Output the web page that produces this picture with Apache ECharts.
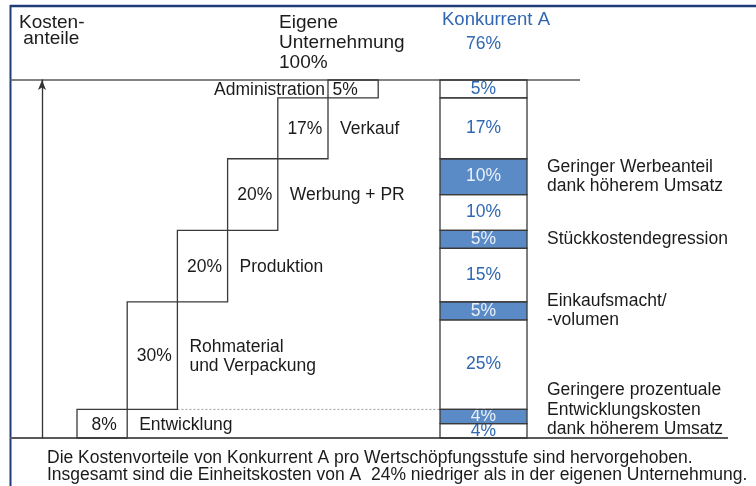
<!DOCTYPE html>
<html>
<head>
<meta charset="utf-8">
<script src="https://cdn.jsdelivr.net/npm/echarts@6/dist/echarts.min.js"></script>
<style>
  html, body { margin: 0; padding: 0; background: #ffffff; }
  #chart { width: 756px; height: 486px; }
</style>
</head>
<body>
<div id="chart"></div>
<script>
// Value-chain stages, listed from the bottom of the staircase upwards
const stages = ['Entwicklung', 'Rohmaterial\nund Verpackung', 'Produktion', 'Werbung + PR', 'Verkauf', 'Administration'];
// Cost share of each stage in the own company (percent of unit cost)
const ownShare = [8, 30, 20, 20, 17, 5];
// Cost share of each stage at competitor A (same base: own unit cost = 100)
const rivalShare = [4, 25, 15, 10, 17, 5];
// Explanation of competitor A's advantage per stage
const advantageNotes = [
  'Geringere prozentuale\nEntwicklungskosten\ndank höherem Umsatz',
  'Einkaufsmacht/\n-volumen',
  'Stückkostendegression',
  'Geringer Werbeanteil\ndank höherem Umsatz',
  '',
  ''
];

const FONT = '"Liberation Sans", Arial, sans-serif';
const INK = '#1b1b1b';
const BOX = '#3a3a3a';
const BLUE_TEXT = '#2f67b1';
const HILITE = '#5b8bc6';
const FRAME = '#1d3c78';

// running bottoms of the staircase
const ownBase = [];
let acc = 0;
ownShare.forEach(v => { ownBase.push(acc); acc += v; });
const ownTotal = acc;
const rivalTotal = rivalShare.reduce((a, b) => a + b, 0);

// [category, from, to, share]
const stepData = ownShare.map((v, i) => [i, ownBase[i], ownBase[i] + v, v]);

// competitor column: [0, from, to, share, highlighted, stage]
const rivalSegs = [];
ownShare.forEach((v, i) => {
  const lo = ownBase[i];
  const mid = lo + rivalShare[i];
  const hi = lo + v;
  rivalSegs.push([0, lo, mid, rivalShare[i], 0, i]);
  if (hi > mid) rivalSegs.push([0, mid, hi, hi - mid, 1, i]);
});

const chart = echarts.init(document.getElementById('chart'), null, { renderer: 'canvas' });

function drawStep(params, api) {
  const i = api.value(0);
  const bottom = api.coord([i, api.value(1)]);
  const top = api.coord([i, api.value(2)]);
  const w = api.size([1, 0])[0];
  const x = bottom[0] - w / 2;
  const y = top[1];
  const h = bottom[1] - top[1];
  const cy = y + h / 2;
  const last = i === stages.length - 1;
  return {
    type: 'group',
    children: [
      {
        type: 'rect',
        shape: { x: x, y: y, width: w, height: h },
        style: { fill: null, stroke: BOX, lineWidth: 1.3 }
      },
      {
        type: 'text',
        x: bottom[0] + (last ? -8 : 2), y: cy + 1,
        style: {
          text: api.value(3) + '%', fill: INK, font: '17.5px ' + FONT,
          align: 'center', verticalAlign: 'middle'
        }
      },
      {
        type: 'text',
        x: last ? x - 3 : x + w + 12, y: cy + 1,
        style: {
          text: stages[i], fill: INK, font: '17.5px ' + FONT, lineHeight: 19,
          align: last ? 'right' : 'left', verticalAlign: 'middle'
        }
      }
    ]
  };
}

function drawSegment(params, api) {
  const lo = api.value(1), hi = api.value(2);
  const hl = api.value(4) === 1;
  const stage = api.value(5);
  const a = api.coord([0, lo]);
  const b = api.coord([0, hi]);
  const axisBottom = api.coord([0, 0])[1];
  const w = api.size([1, 0])[0];
  const x = a[0] - w / 2;
  const cy = (a[1] + b[1]) / 2;
  const children = [
    {
      type: 'rect',
      shape: { x: x, y: b[1], width: w, height: a[1] - b[1] },
      style: { fill: hl ? HILITE : null, stroke: BOX, lineWidth: 1.3 }
    },
    {
      type: 'text',
      x: a[0], y: cy,
      style: {
        text: api.value(3) + '%', fill: hl ? '#e9f0f9' : BLUE_TEXT,
        font: '17.5px ' + FONT, align: 'center', verticalAlign: 'middle'
      }
    }
  ];
  if (hl && advantageNotes[stage]) {
    const lines = advantageNotes[stage].split('\n').length;
    const ny = Math.min(cy, axisBottom - lines * 19.5 / 2 + 1);
    children.push({
      type: 'text',
      x: x + w + 20, y: ny,
      style: {
        text: advantageNotes[stage], fill: INK, font: '17.5px ' + FONT,
        lineHeight: 19.5, align: 'left', verticalAlign: 'middle'
      }
    });
  }
  return { type: 'group', children: children };
}

const option = {
  animation: false,
  backgroundColor: '#ffffff',
  grid: [
    { left: 77, top: 80, width: 301.2, height: 358 },
    { left: 440, top: 80, width: 87, height: 358 }
  ],
  xAxis: [
    { type: 'category', gridIndex: 0, data: stages, show: false },
    { type: 'category', gridIndex: 1, data: ['Konkurrent A'], show: false }
  ],
  yAxis: [
    {
      type: 'value', gridIndex: 0, min: 0, max: 100, offset: 35,
      axisLine: {
        show: true, symbol: ['none', 'arrow'], symbolSize: [6, 10],
        lineStyle: { color: '#333333', width: 1.3 }
      },
      axisTick: { show: false }, axisLabel: { show: false }, splitLine: { show: false }
    },
    {
      type: 'value', gridIndex: 1, min: 0, max: 100, show: false, splitLine: { show: false }
    }
  ],
  series: [
    {
      type: 'custom', name: 'Eigene Unternehmung', xAxisIndex: 0, yAxisIndex: 0,
      renderItem: drawStep, data: stepData, clip: false,
      encode: { x: 0, y: [1, 2] }
    },
    {
      type: 'custom', name: 'Konkurrent A', xAxisIndex: 1, yAxisIndex: 1,
      renderItem: drawSegment, data: rivalSegs, clip: false,
      encode: { x: 0, y: [1, 2] }
    }
  ]
};
chart.setOption(option);

// Frame, rules and captions positioned from the axes
const yTop = chart.convertToPixel({ yAxisIndex: 0 }, 100);
const yZero = chart.convertToPixel({ yAxisIndex: 0 }, 0);
const yDev = chart.convertToPixel({ yAxisIndex: 0 }, ownShare[0]);
const band = 301.2 / stages.length;
const rowStart = chart.convertToPixel({ xAxisIndex: 0 }, stages[1]) + band / 2;
const colLeft = chart.convertToPixel({ xAxisIndex: 1 }, 'Konkurrent A') - 87 / 2;

function txt(t, x, y, size, color, align) {
  return {
    type: 'text', x: x, y: y, silent: true,
    style: { text: t, fill: color || INK, font: size + 'px ' + FONT, align: align || 'left', verticalAlign: 'middle' }
  };
}

chart.setOption({
  graphic: [
    { type: 'line', shape: { x1: 10, y1: 6, x2: 756, y2: 6 }, style: { stroke: FRAME, lineWidth: 2.5 } },
    { type: 'line', shape: { x1: 10.5, y1: 5, x2: 10.5, y2: 486 }, style: { stroke: FRAME, lineWidth: 2 } },
    { type: 'line', shape: { x1: 10, y1: yTop, x2: 580, y2: yTop }, style: { stroke: '#5a5a5a', lineWidth: 1.6 } },
    { type: 'line', shape: { x1: 10, y1: yZero, x2: 728, y2: yZero }, style: { stroke: '#5a5a5a', lineWidth: 1.8 } },
    { type: 'line', shape: { x1: rowStart, y1: yDev, x2: colLeft, y2: yDev }, style: { stroke: '#9a9a9a', lineWidth: 1, lineDash: [2, 2] } },
    txt('Kosten-', 19, 22.7, 19),
    txt(' anteile', 18, 38.5, 19),
    txt('Eigene', 279, 22.7, 19),
    txt('Unternehmung', 279, 42.7, 19),
    txt(ownTotal + '%', 279, 63, 19),
    txt('Konkurrent A', 442, 20, 18.5, BLUE_TEXT),
    txt(rivalTotal + '%', colLeft + 87 / 2, 44, 17.5, BLUE_TEXT, 'center'),
    txt('Die Kostenvorteile von Konkurrent A pro Wertschöpfungsstufe sind hervorgehoben.', 47, 458, 17.5),
    txt('Insgesamt sind die Einheitskosten von A  ' + (ownTotal - rivalTotal) + '% niedriger als in der eigenen Unternehmung.', 47, 475.5, 17.5)
  ]
});
</script>
</body>
</html>
